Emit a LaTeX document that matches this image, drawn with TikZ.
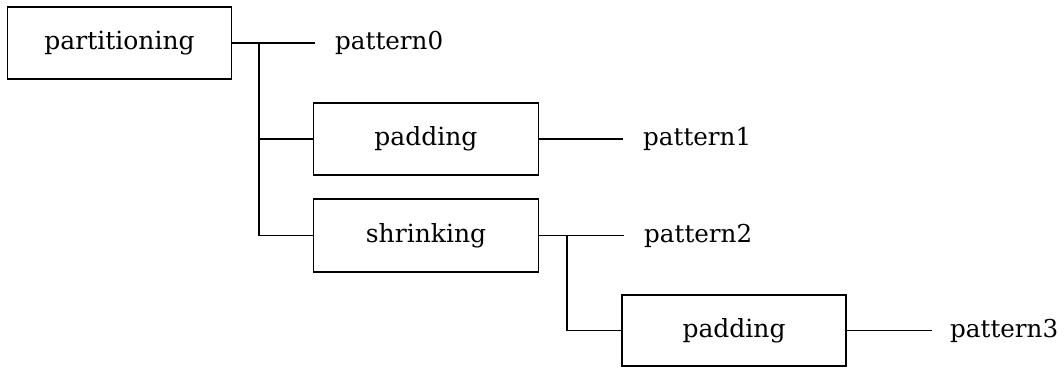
\documentclass[tikz,border=0pt]{standalone}
\usepackage{fontspec}
\setmainfont{DejaVu Serif}
\begin{document}
\begin{tikzpicture}[x=1pt,y=-1pt,
  opbox/.style={draw,line width=1.5pt,minimum width=224pt,minimum height=72pt,inner sep=0pt,font=\fontsize{25}{29}\selectfont},
  leaf/.style={anchor=west,inner sep=0pt,font=\fontsize{24.6}{29}\selectfont},
  wire/.style={line width=1.5pt}]
\useasboundingbox (0,0) rectangle (1064,367);
% operation boxes
\node[opbox] (part) at (119.5,43) {partitioning};
\node[opbox,minimum width=225pt] (pad1) at (426,139) {padding};
\node[opbox,minimum width=225pt,minimum height=73pt] (shr) at (426,235.5) {shrinking};
\node[opbox,minimum height=71pt] (pad2) at (734,330.5) {padding};
% resulting patterns
\node[leaf] (p0) at (335,43) {pattern0};
\node[leaf] (p1) at (643,139) {pattern1};
\node[leaf] (p2) at (644,235.5) {pattern2};
\node[leaf] (p3) at (950,330.5) {pattern3};
% junctions and free line ends
\coordinate (j0) at (259,43);
\coordinate (e0) at (315,43);
\coordinate (e1) at (623,139);
\coordinate (j2) at (567,235.5);
\coordinate (e2) at (624,235.5);
\coordinate (e3) at (932,330.5);
% partitioning tree
\draw[wire] (part.east) -- (e0);
\draw[wire] (j0) |- (shr.west);
\draw[wire] (j0 |- pad1.west) -- (pad1.west);
\draw[wire] (pad1.east) -- (e1);
% shrinking tree
\draw[wire] (shr.east) -- (e2);
\draw[wire] (j2) |- (pad2.west);
\draw[wire] (pad2.east) -- (e3);
\end{tikzpicture}
\end{document}
